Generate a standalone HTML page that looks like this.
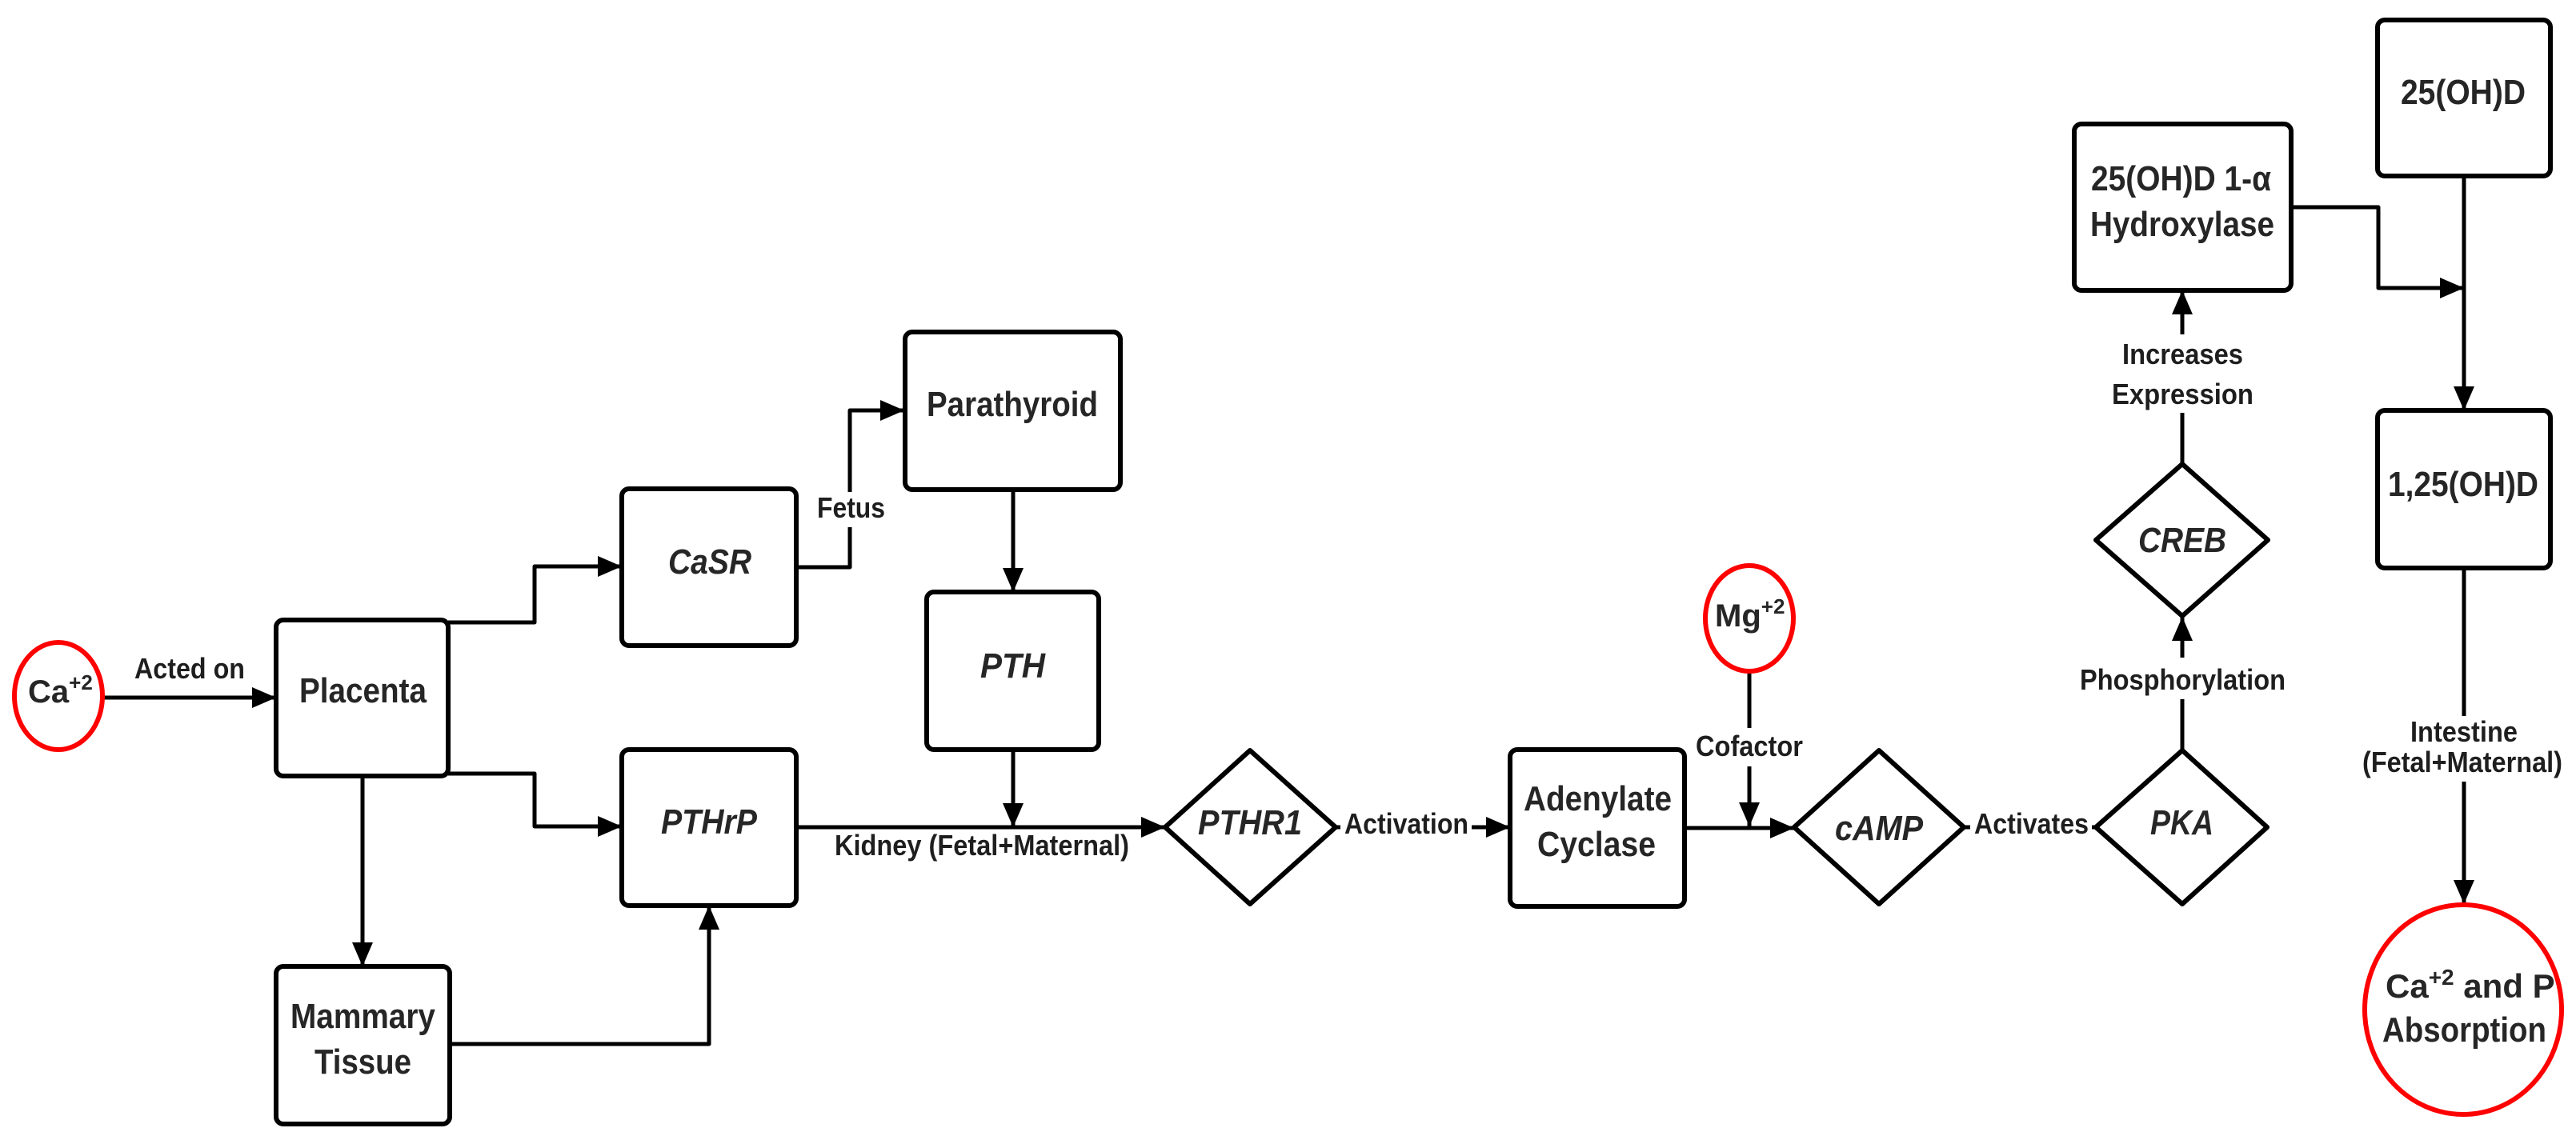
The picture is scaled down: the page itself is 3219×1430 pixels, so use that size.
<!DOCTYPE html>
<html><head><meta charset="utf-8"><style>
html,body{margin:0;padding:0;background:#fff;}
svg{display:block;}
text{font-family:"Liberation Sans",Arial,sans-serif;font-weight:bold;fill:#262626;}
.b{font-size:44px;}
.l{font-size:36px;fill:#1e1e1e;}
.i{font-style:italic;}
</style></head><body>
<svg width="3219" height="1430" viewBox="0 0 3219 1430" xmlns="http://www.w3.org/2000/svg">
<defs>
<marker id="a" markerUnits="userSpaceOnUse" markerWidth="32" markerHeight="28" refX="30" refY="14" orient="auto">
<path d="M0,1 L30,14 L0,27 Z" fill="#000"/>
</marker>
</defs>
<g fill="none" stroke="#000" stroke-width="5" stroke-linejoin="round">
<!-- Ca -> Placenta -->
<line x1="128" y1="872" x2="345" y2="872" marker-end="url(#a)"/>
<!-- Placenta -> CaSR -->
<path d="M560 778 H668 V708 H777" marker-end="url(#a)"/>
<!-- Placenta -> PTHrP -->
<path d="M560 967 H668 V1033 H777" marker-end="url(#a)"/>
<!-- Placenta -> Mammary -->
<line x1="453" y1="970" x2="453" y2="1208" marker-end="url(#a)"/>
<!-- Mammary -> PTHrP -->
<path d="M562 1305 H886 V1132" marker-end="url(#a)"/>
<!-- CaSR -> Parathyroid (Fetus) -->
<path d="M995 709 H1062 V513 H1130" marker-end="url(#a)"/>
<!-- Parathyroid -> PTH -->
<line x1="1266" y1="612" x2="1266" y2="740" marker-end="url(#a)"/>
<!-- PTH -> kidney line -->
<line x1="1266" y1="937" x2="1266" y2="1034" marker-end="url(#a)"/>
<!-- PTHrP -> PTHR1 -->
<line x1="995" y1="1034" x2="1456" y2="1034" marker-end="url(#a)"/>
<!-- PTHR1 -> Adenylate -->
<line x1="1669" y1="1034" x2="1887" y2="1034" marker-end="url(#a)"/>
<!-- Adenylate -> cAMP -->
<line x1="2105" y1="1035" x2="2242" y2="1035" marker-end="url(#a)"/>
<!-- Mg -> line -->
<line x1="2186" y1="840" x2="2186" y2="1033" marker-end="url(#a)"/>
<!-- cAMP -> PKA -->
<line x1="2454" y1="1034" x2="2619" y2="1034"/>
<!-- PKA -> CREB -->
<line x1="2727" y1="938" x2="2727" y2="771" marker-end="url(#a)"/>
<!-- CREB -> Hydroxylase -->
<line x1="2727" y1="580" x2="2727" y2="363" marker-end="url(#a)"/>
<!-- Hydroxylase -> main -->
<path d="M2863 259 H2972 V360 H3079" marker-end="url(#a)"/>
<!-- 25OHD -> 1,25 -->
<line x1="3079" y1="220" x2="3079" y2="513" marker-end="url(#a)"/>
<!-- 1,25 -> circle -->
<line x1="3079" y1="710" x2="3079" y2="1130" marker-end="url(#a)"/>
</g>
<!-- label backgrounds -->
<g fill="#fff">
<rect x="1015" y="615" width="96" height="44"/>
<rect x="2112" y="910" width="148" height="48"/>
<rect x="1675" y="1005" width="164" height="50"/>
<rect x="2462" y="1005" width="152" height="50"/>
<rect x="2594" y="822" width="268" height="52"/>
<rect x="2634" y="418" width="188" height="98"/>
<rect x="2948" y="895" width="260" height="82"/>
</g>
<!-- boxes -->
<g fill="#fff" stroke="#000" stroke-width="6">
<rect x="345" y="775" width="215" height="195" rx="9"/>
<rect x="345" y="1208" width="217" height="197" rx="9"/>
<rect x="777" y="611" width="218" height="196" rx="9"/>
<rect x="777" y="937" width="218" height="195" rx="9"/>
<rect x="1131" y="415" width="269" height="197" rx="9"/>
<rect x="1158" y="740" width="215" height="197" rx="9"/>
<rect x="1887" y="937" width="218" height="196" rx="9"/>
<rect x="2592" y="155" width="271" height="208" rx="9"/>
<rect x="2971" y="25" width="216" height="195" rx="9"/>
<rect x="2971" y="513" width="216" height="197" rx="9"/>
<polygon points="1562,938 1669,1034 1562,1130 1456,1034" stroke-linejoin="round"/>
<polygon points="2348,938 2454,1034 2348,1130 2242,1034" stroke-linejoin="round"/>
<polygon points="2727,938 2833,1034 2727,1130 2619,1034" stroke-linejoin="round"/>
<polygon points="2727,580 2834,675 2727,770 2619,675" stroke-linejoin="round"/>
</g>
<g fill="#fff" stroke="#f00" stroke-width="6">
<ellipse cx="73" cy="870" rx="55" ry="67"/>
<ellipse cx="2186" cy="773" rx="55" ry="66"/>
<ellipse cx="3078" cy="1262" rx="123" ry="131"/>
</g>
<!-- texts -->
<text class="b" x="35" y="878" style="font-size:40px">Ca<tspan font-size="26" dy="-16">+2</tspan></text>
<text class="l" x="168" y="848" textLength="138" lengthAdjust="spacingAndGlyphs">Acted on</text>
<text class="b" x="374" y="878" textLength="159" lengthAdjust="spacingAndGlyphs">Placenta</text>
<text class="b" x="363" y="1285" textLength="181" lengthAdjust="spacingAndGlyphs">Mammary</text>
<text class="b" x="393" y="1342" textLength="121" lengthAdjust="spacingAndGlyphs">Tissue</text>
<text class="b i" x="835" y="717" textLength="104" lengthAdjust="spacingAndGlyphs">CaSR</text>
<text class="b i" x="826" y="1042" textLength="120" lengthAdjust="spacingAndGlyphs">PTHrP</text>
<text class="l" x="1021" y="647" textLength="85" lengthAdjust="spacingAndGlyphs">Fetus</text>
<text class="b" x="1158" y="520" textLength="214" lengthAdjust="spacingAndGlyphs">Parathyroid</text>
<text class="b i" x="1225" y="847" textLength="81" lengthAdjust="spacingAndGlyphs">PTH</text>
<text class="l" x="1043" y="1069" textLength="368" lengthAdjust="spacingAndGlyphs">Kidney (Fetal+Maternal)</text>
<text class="b i" x="1497" y="1043" textLength="130" lengthAdjust="spacingAndGlyphs">PTHR1</text>
<text class="l" x="1680" y="1042" textLength="155" lengthAdjust="spacingAndGlyphs">Activation</text>
<text class="b" x="1904" y="1013" textLength="185" lengthAdjust="spacingAndGlyphs">Adenylate</text>
<text class="b" x="1921" y="1070" textLength="148" lengthAdjust="spacingAndGlyphs">Cyclase</text>
<text class="b" x="2143" y="783" style="font-size:40px">Mg<tspan font-size="26" dy="-16">+2</tspan></text>
<text class="l" x="2119" y="945" textLength="134" lengthAdjust="spacingAndGlyphs">Cofactor</text>
<text class="b i" x="2293" y="1050" textLength="110" lengthAdjust="spacingAndGlyphs">cAMP</text>
<text class="l" x="2467" y="1042" textLength="143" lengthAdjust="spacingAndGlyphs">Activates</text>
<text class="b i" x="2687" y="1043" textLength="79" lengthAdjust="spacingAndGlyphs">PKA</text>
<text class="l" x="2599" y="862" textLength="257" lengthAdjust="spacingAndGlyphs">Phosphorylation</text>
<text class="b i" x="2672" y="690" textLength="110" lengthAdjust="spacingAndGlyphs">CREB</text>
<text class="l" x="2652" y="455" textLength="151" lengthAdjust="spacingAndGlyphs">Increases</text>
<text class="l" x="2639" y="505" textLength="177" lengthAdjust="spacingAndGlyphs">Expression</text>
<text class="b" x="2613" y="238" textLength="225" lengthAdjust="spacingAndGlyphs">25(OH)D 1-α</text>
<text class="b" x="2612" y="295" textLength="230" lengthAdjust="spacingAndGlyphs">Hydroxylase</text>
<text class="b" x="3000" y="130" textLength="156" lengthAdjust="spacingAndGlyphs">25(OH)D</text>
<text class="b" x="2984" y="620" textLength="188" lengthAdjust="spacingAndGlyphs">1,25(OH)D</text>
<text class="l" x="3012" y="927" textLength="134" lengthAdjust="spacingAndGlyphs">Intestine</text>
<text class="l" x="2952" y="965" textLength="250" lengthAdjust="spacingAndGlyphs">(Fetal+Maternal)</text>
<text class="b" x="2981" y="1247" style="font-size:42px">Ca<tspan font-size="28" dy="-16">+2</tspan><tspan dy="16"> and P</tspan></text>
<text class="b" x="2977" y="1302" textLength="205" lengthAdjust="spacingAndGlyphs">Absorption</text>
</svg>
</body></html>
